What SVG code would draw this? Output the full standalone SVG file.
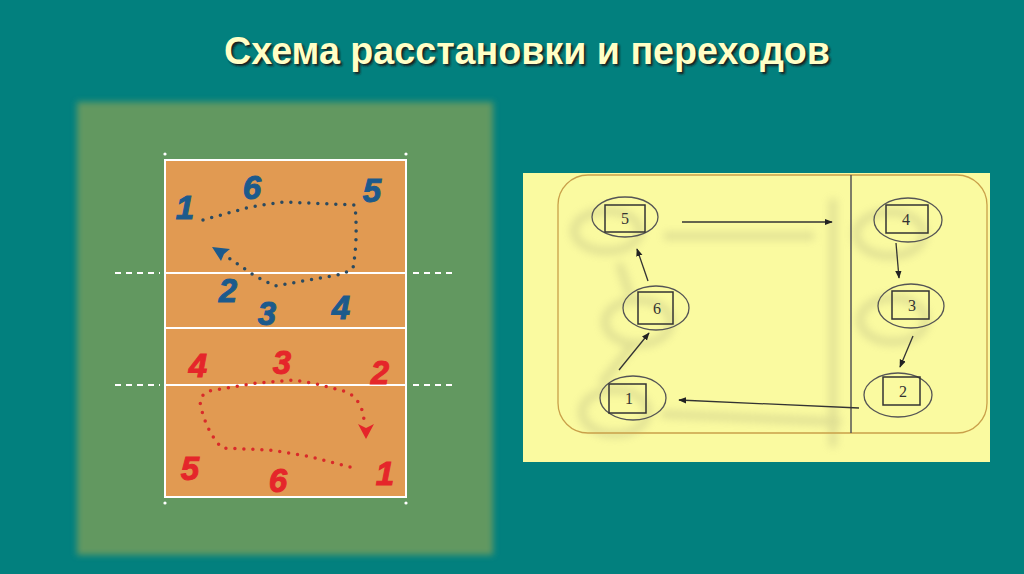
<svg xmlns="http://www.w3.org/2000/svg" width="1024" height="574" viewBox="0 0 1024 574">
<defs>
<style>
.title{font-family:"Liberation Sans",Arial,sans-serif;font-weight:bold;font-size:38px}
.hb{font-family:"Liberation Sans",Arial,sans-serif;font-weight:bold;font-style:italic;font-size:33px;fill:#1C5A8C;stroke:#1C5A8C;stroke-width:1;text-anchor:middle}
.hr{font-family:"Liberation Sans",Arial,sans-serif;font-weight:bold;font-style:italic;font-size:33px;fill:#E5262A;stroke:#E5262A;stroke-width:1;text-anchor:middle}
.cl{stroke:#FFFFFF;stroke-width:2;fill:none}
.ext{stroke:#FFFFFF;stroke-width:2;stroke-dasharray:6 5}
.num{font-family:"Liberation Serif","Times New Roman",serif;font-size:16px;fill:#333333;text-anchor:middle}
.ell{fill:none;stroke:#555555;stroke-width:1.3}
.sq{fill:none;stroke:#333333;stroke-width:1.5}
.con{stroke:#333333;stroke-width:1.3;fill:none}
.shd{stroke:#8F8F70;stroke-width:7;fill:none}
</style>
<filter id="blur3" x="-10%" y="-10%" width="120%" height="120%"><feGaussianBlur stdDeviation="3"/></filter>
<filter id="blur5" x="-20%" y="-20%" width="140%" height="140%"><feGaussianBlur stdDeviation="4"/></filter>
<filter id="tsh" x="-5%" y="-20%" width="110%" height="140%"><feGaussianBlur stdDeviation="1"/></filter>
<marker id="ah" viewBox="0 0 10 10" refX="9" refY="5" markerWidth="8" markerHeight="8" markerUnits="userSpaceOnUse" orient="auto">
<path d="M0,1 L10,5 L0,9 Z" fill="#222222"/>
</marker>
</defs>
<rect x="0" y="0" width="1024" height="574" fill="#02807E"/>
<g id="title">
<text x="527" y="64" text-anchor="middle" class="title" fill="#1a1a1a" filter="url(#tsh)" textLength="606" lengthAdjust="spacingAndGlyphs" transform="translate(2,2)">Схема расстановки и переходов</text>
<text x="527" y="64" text-anchor="middle" class="title" fill="#FFFFC6" textLength="606" lengthAdjust="spacingAndGlyphs">Схема расстановки и переходов</text>
</g>
<g id="court-left">
<rect x="77" y="102" width="416" height="453" fill="#629860" filter="url(#blur3)"/>
<rect x="165" y="160" width="241" height="337" fill="#E19A52"/>
<rect x="165" y="160" width="241" height="337" class="cl"/>
<line x1="165" y1="273" x2="406" y2="273" class="cl"/>
<line x1="165" y1="328" x2="406" y2="328" class="cl"/>
<line x1="165" y1="385" x2="406" y2="385" class="cl"/>
<line x1="115" y1="273" x2="160" y2="273" class="ext"/>
<line x1="413" y1="273" x2="457" y2="273" class="ext"/>
<line x1="115" y1="385" x2="160" y2="385" class="ext"/>
<line x1="413" y1="385" x2="457" y2="385" class="ext"/>
<circle cx="165" cy="154" r="1.6" fill="#FFFFFF"/>
<circle cx="406" cy="154" r="1.6" fill="#FFFFFF"/>
<circle cx="165" cy="503" r="1.6" fill="#FFFFFF"/>
<circle cx="406" cy="503" r="1.6" fill="#FFFFFF"/>
</g>
<g id="blue-team">
<path d="M203,220 L250,207 L283,202 L355,205 Q358,240 353,268 L343,274 L275,286 L255,276 L226,256" fill="none" stroke="#2A4A60" stroke-width="3.5" stroke-linecap="round" stroke-dasharray="0 9"/>
<path d="M212,247 L230,249 L224,254 L221,261 Z" fill="#1C5A8C"/>
<text x="185" y="219" class="hb">1</text>
<text x="252" y="199" class="hb">6</text>
<text x="372" y="202" class="hb">5</text>
<text x="228" y="302" class="hb">2</text>
<text x="267" y="325" class="hb">3</text>
<text x="341" y="319" class="hb">4</text>
</g>
<g id="red-team">
<path d="M350,467 L307,456 L270,450 L222,448 Q205,430 200,402 Q202,391 215,390 L257,383 L293,380 L317,384 L347,392 Q362,400 364,420" fill="none" stroke="#D92A2A" stroke-width="3.5" stroke-linecap="round" stroke-dasharray="0 9"/>
<path d="M358,424 L366,439 L374,424 L366,428 Z" fill="#E5262A"/>
<text x="198" y="377" class="hr">4</text>
<text x="282" y="374" class="hr">3</text>
<text x="380" y="384" class="hr">2</text>
<text x="190" y="480" class="hr">5</text>
<text x="278" y="492" class="hr">6</text>
<text x="385" y="485" class="hr">1</text>
</g>
<g id="panel">
<rect x="523" y="173" width="467" height="289" fill="#FAFAA0"/>
<g opacity="0.28" filter="url(#blur5)" transform="translate(-18,14)">
<line x1="851" y1="185" x2="851" y2="433" class="shd"/>
<line x1="682" y1="222" x2="832" y2="222" class="shd"/>
<line x1="859" y1="408" x2="679" y2="400" class="shd"/>
<ellipse cx="625" cy="217" rx="33" ry="20" class="shd"/>
<ellipse cx="656" cy="308" rx="33" ry="22" class="shd"/>
<ellipse cx="633" cy="398" rx="33" ry="22" class="shd"/>
<ellipse cx="908" cy="220" rx="34" ry="22" class="shd"/>
<ellipse cx="911" cy="306" rx="33" ry="22" class="shd"/>
<line x1="619" y1="370" x2="649" y2="333" class="shd"/>
<line x1="648" y1="281" x2="637" y2="249" class="shd"/>
</g>
<rect x="558" y="175" width="429" height="258" rx="30" ry="30" fill="none" stroke="#C9A04A" stroke-width="1.3"/>
<line x1="851" y1="175" x2="851" y2="433" stroke="#555555" stroke-width="1.5"/>
</g>
<g id="node-5">
<ellipse cx="625" cy="217" rx="33" ry="20" class="ell"/>
<rect x="605" y="205" width="40" height="27" class="sq"/>
<text x="625" y="224" class="num">5</text>
</g>
<g id="node-6">
<ellipse cx="656" cy="308" rx="33" ry="22" class="ell"/>
<rect x="638" y="292" width="35" height="32" class="sq"/>
<text x="657" y="314" class="num">6</text>
</g>
<g id="node-1">
<ellipse cx="633" cy="398" rx="33" ry="22" class="ell"/>
<rect x="609" y="384" width="37" height="29" class="sq"/>
<text x="629" y="404" class="num">1</text>
</g>
<g id="node-4">
<ellipse cx="908" cy="220" rx="34" ry="22" class="ell"/>
<rect x="886" y="205" width="42" height="28" class="sq"/>
<text x="906" y="225" class="num">4</text>
</g>
<g id="node-3">
<ellipse cx="911" cy="306" rx="33" ry="22" class="ell"/>
<rect x="892" y="291" width="37" height="28" class="sq"/>
<text x="912" y="311" class="num">3</text>
</g>
<g id="node-2">
<ellipse cx="898" cy="395" rx="34" ry="22" class="ell"/>
<rect x="883" y="377" width="37" height="28" class="sq"/>
<text x="903" y="397" class="num">2</text>
</g>
<g id="connectors">
<line x1="682" y1="222" x2="832" y2="222" class="con" marker-end="url(#ah)"/>
<line x1="896" y1="243" x2="899" y2="278" class="con" marker-end="url(#ah)"/>
<line x1="913" y1="336" x2="900" y2="367" class="con" marker-end="url(#ah)"/>
<line x1="859" y1="408" x2="679" y2="400" class="con" marker-end="url(#ah)"/>
<line x1="619" y1="370" x2="649" y2="333" class="con" marker-end="url(#ah)"/>
<line x1="648" y1="281" x2="637" y2="249" class="con" marker-end="url(#ah)"/>
</g>
</svg>
